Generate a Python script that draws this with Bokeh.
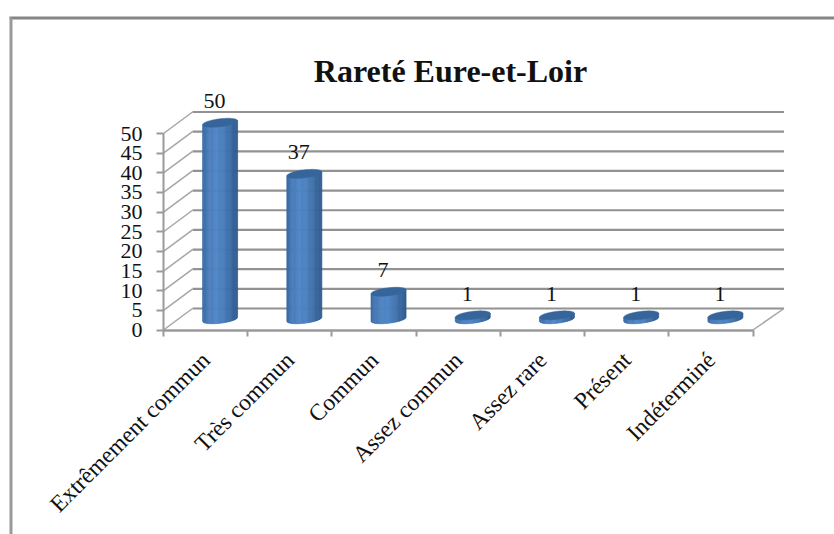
import math
from bokeh.plotting import figure
from bokeh.embed import file_html
from bokeh.resources import INLINE
from bokeh.models import LinearAxis, FixedTicker, Label, Range1d
from bokeh.core.properties import value

categories = ["Extrêmement commun", "Très commun", "Commun", "Assez commun", "Assez rare", "Présent", "Indéterminé"]
counts = [50, 37, 7, 1, 1, 1, 1]
y_ticks = [0, 5, 10, 15, 20, 25, 30, 35, 40, 45, 50]
title_text = "Rareté Eure-et-Loir"

FONT = "Liberation Serif"
W, H = 834, 534
X0, Y0 = 163.0, 329.5     # pixel of the origin in the picture
PX_X = (752.5 - 163.0) / len(categories)   # px per category
PX_Y = 3.93               # px per count
DX, DY = 29.0, 21.5       # 3D depth offset, px
GRID = "#929292"

def dx(px): return px / PX_X
def dy(px): return px / PX_Y
def sx(px): return (px - X0) / PX_X
def sy(px): return (Y0 - px) / PX_Y

p = figure(width=W, height=H, output_backend="svg", toolbar_location=None,
           x_range=Range1d(sx(0), sx(W)), y_range=Range1d(sy(H), sy(0)),
           x_axis_type=None, y_axis_type=None, min_border=0,
           outline_line_color=None, background_fill_color="white", border_fill_color="white")
p.grid.visible = False

# outer frame of the chart (top and left edges)
p.segment([sx(9)], [sy(17.5)], [sx(W)], [sy(17.5)], line_color="#858585", line_width=3)
p.segment([sx(10.5)], [sy(17)], [sx(10.5)], [sy(H)], line_color="#9a9a9a", line_width=3)

# back wall grid + side wall depth lines
n = len(categories)
p.segment([dx(DX)] * len(y_ticks), [t + dy(DY) for t in y_ticks],
          [n + dx(DX + 2)] * len(y_ticks), [t + dy(DY) for t in y_ticks],
          line_color=GRID, line_width=2.2)
p.segment([0] * len(y_ticks), y_ticks, [dx(DX)] * len(y_ticks), [t + dy(DY) for t in y_ticks],
          line_color="#a6a6a6", line_width=1.5)
p.segment([n], [0], [n + dx(DX + 2)], [dy(DY)], line_color="#a6a6a6", line_width=1.5)

# cylinders
R, H_E, TILT = 17.5, 4.0, 2.0  # radius, half ellipse height, tilt at radius (px)
ANCHORS = [(58, 105, 163), (74, 126, 187), (79, 134, 198), (74, 126, 186), (60, 107, 164), (47, 90, 140)]
STRIPS = 30

def shade(f):
    pos = f * (len(ANCHORS) - 1)
    j = min(int(pos), len(ANCHORS) - 2)
    w = pos - j
    c = [round(ANCHORS[j][q] * (1 - w) + ANCHORS[j + 1][q] * w) for q in range(3)]
    return "#%02x%02x%02x" % tuple(c)

for i, v in enumerate(counts):
    cx = i + 0.5 + dx(DX / 2)
    base = dy(DY / 2)
    top = v + base
    xs, ys, cols = [], [], []
    for k in range(STRIPS):
        a, b = -1 + 2 * k / STRIPS, -1 + 2 * (k + 1) / STRIPS
        ts = [a + (b - a) * j / 3 for j in range(4)]
        low = [base + dy(TILT * t - H_E * math.sqrt(max(0, 1 - t * t))) for t in ts]
        up = [top + dy(TILT * t) for t in ts]
        xs.append([cx + dx(R * t) for t in ts] + [cx + dx(R * t) for t in reversed(ts)])
        ys.append(low + list(reversed(up)))
        cols.append(shade((k + 0.5) / STRIPS))
    p.patches(xs, ys, fill_color=cols, line_color=cols, line_width=0.7)
    ts = [t / 40 for t in range(-40, 41)]
    ex = [cx + dx(R * t) for t in ts] + [cx + dx(R * t) for t in reversed(ts)]
    ey = [top + dy(TILT * t - H_E * math.sqrt(max(0, 1 - t * t))) for t in ts] + \
         [top + dy(TILT * t + H_E * math.sqrt(max(0, 1 - t * t))) for t in reversed(ts)]
    p.patch(ex, ey, fill_color="#36659c", line_color="#36659c", line_width=0.5)

# value labels
p.text([i + 0.5 + dx(DX / 2 - 5.5) for i in range(n)],
       [v + dy(DY / 2 + 21.5) for v in counts],
       text=[str(v) for v in counts], text_font=value(FONT), text_font_size="22px",
       text_color="#111111", text_align="center", text_baseline="middle")

# axes
yax = LinearAxis(fixed_location=0, ticker=FixedTicker(ticks=y_ticks), bounds=(0, 50))
yax.axis_line_color = "#9a9a9a"; yax.axis_line_width = 2
yax.major_tick_line_color = "#9a9a9a"; yax.major_tick_line_width = 2
yax.major_tick_out = 7; yax.major_tick_in = 0; yax.minor_tick_line_color = None
yax.major_label_standoff = 14
yax.major_label_text_font = FONT; yax.major_label_text_font_size = "22px"
yax.major_label_text_color = "#111111"
p.add_layout(yax, "left")

xax = LinearAxis(fixed_location=0, bounds=(0, n),
                 ticker=FixedTicker(ticks=[i + 0.5 for i in range(n)], minor_ticks=list(range(n + 1))))
xax.major_label_overrides = {i + 0.5: c for i, c in enumerate(categories)}
xax.major_label_orientation = math.pi / 4
xax.axis_line_color = "#9a9a9a"; xax.axis_line_width = 2.5
xax.major_tick_line_color = None; xax.major_tick_out = 0; xax.major_tick_in = 0
xax.minor_tick_line_color = "#9a9a9a"; xax.minor_tick_line_width = 2
xax.minor_tick_out = 6; xax.minor_tick_in = 0
xax.major_label_standoff = 20
xax.major_label_text_font = FONT; xax.major_label_text_font_size = "23.5px"
xax.major_label_text_color = "#111111"
p.add_layout(xax, "below")

p.add_layout(Label(x=sx(450), y=sy(70), text=title_text, text_align="center", text_baseline="middle",
                   text_font=FONT, text_font_style="bold", text_font_size="32px", text_color="#111111"))

open("out.html", "w").write(file_html(p, INLINE))
